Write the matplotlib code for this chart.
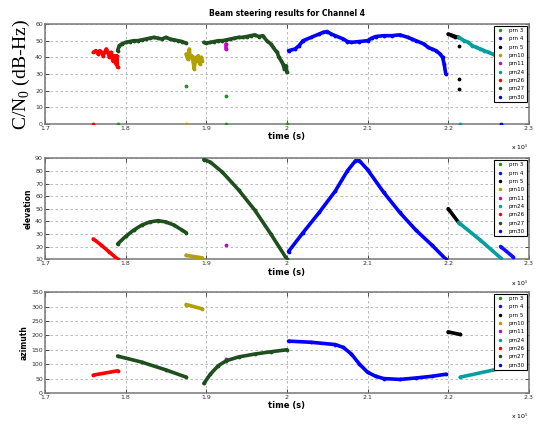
#!/usr/bin/env python3
"""Beam steering results for Channel 4: C/N0, elevation and azimuth per PRN."""

import numpy as np
import matplotlib
matplotlib.use('Agg')
import matplotlib.pyplot as plt
from matplotlib.lines import Line2D

plt.rcParams['mathtext.fontset'] = 'custom'
plt.rcParams['mathtext.rm'] = 'Liberation Serif'

# time axis is in units of 1e5 s
prns = ['prn 3', 'prn 4', 'prn 5', 'prn10', 'prn11', 'prn24', 'prn26', 'prn27', 'prn30']
colors = ['#1a9a1a', '#1010ff', '#000000', '#b0a000', '#cc00cc',
          '#00a0a0', '#ff0000', '#1f4f1f', '#0000ff']

# ---- C/N0 (dB-Hz) ----
t_cn_26 = [1.760, 1.763, 1.766, 1.768, 1.770, 1.772, 1.774, 1.776, 1.778, 1.780,
           1.782, 1.784, 1.786, 1.788, 1.789, 1.790]
cn_26 = [43, 44, 42, 44, 43, 41, 43, 45, 43, 40, 43, 38, 41, 36, 41, 34]

t_cn_27a = [1.790, 1.792, 1.795, 1.800, 1.805, 1.810, 1.815, 1.820, 1.825, 1.830,
            1.835, 1.840, 1.845, 1.850, 1.855, 1.860, 1.865, 1.870, 1.875]
cn_27a = [44, 47, 48, 49, 49.5, 50, 50, 50.5, 51, 51.5, 52, 51.5, 51, 52, 51,
          50.5, 50, 49.5, 48.5]

t_cn_10 = [1.875, 1.877, 1.879, 1.880, 1.882, 1.884, 1.885, 1.887, 1.889, 1.890,
           1.892, 1.894, 1.895]
cn_10 = [42, 39, 45, 40, 41, 37, 33, 40, 38, 41, 36, 40, 38]

t_cn_27b = [1.897, 1.900, 1.905, 1.910, 1.915, 1.920, 1.925, 1.930, 1.935, 1.940,
            1.945, 1.950, 1.955, 1.960, 1.965, 1.970, 1.975, 1.980, 1.983, 1.986,
            1.988, 1.990, 1.993, 1.995, 1.997, 1.999, 2.000]
cn_27b = [49, 48.5, 49, 49.5, 50, 50, 50.5, 51, 51.5, 52, 52, 52.5, 53, 53.5,
          52.5, 53, 50, 48, 46, 44, 43, 40, 38, 36, 33, 35, 31]

t_cn_30 = [2.002, 2.010, 2.015, 2.020, 2.030, 2.040, 2.045, 2.050, 2.055, 2.060,
           2.070, 2.075, 2.080, 2.090, 2.100, 2.105, 2.110, 2.120, 2.130, 2.140,
           2.150, 2.155, 2.160, 2.170, 2.175, 2.180, 2.185, 2.190, 2.193, 2.195, 2.197]
cn_30 = [44, 45, 47, 50, 52, 54, 55, 55.5, 54, 53, 51, 49.5, 49, 49.5, 50, 51.5,
         52.5, 53, 53, 53.5, 52, 51, 50, 48, 46, 45, 44, 42, 40, 36, 30]

t_cn_5 = [2.200, 2.203, 2.206, 2.209, 2.212]
cn_5 = [54, 53.5, 53, 52.5, 52]
t_cn_5_pts = [2.213, 2.213, 2.213]
cn_5_pts = [47, 27, 21]

t_cn_24 = [2.213, 2.220, 2.225, 2.230, 2.235, 2.240, 2.245, 2.250, 2.255, 2.260, 2.265]
cn_24 = [52, 50, 49, 47, 46, 45, 44, 43, 42, 41, 40]

t_cn_3 = [1.875, 1.925, 1.790, 1.925, 2.000]
cn_3 = [23, 17, 0, 0, 0]
t_cn_11 = [1.925, 1.925]
cn_11 = [45, 48]
t_cn_zero = [1.760, 1.875, 2.215, 2.265]
cn_zero_colors = ['#ff0000', '#b0a000', '#00a0a0', '#0000ff']

# ---- elevation (deg) ----
t_el_26 = [1.760, 1.770, 1.780, 1.790]
el_26 = [26, 21, 15.5, 10]
t_el_27a = [1.790, 1.800, 1.810, 1.820, 1.830, 1.840, 1.850, 1.860, 1.870, 1.875]
el_27a = [22, 28, 33, 37, 39.5, 40.5, 39.5, 37, 33, 31]
t_el_10 = [1.875, 1.885, 1.895]
el_10 = [13, 12, 11]
t_el_11 = [1.925]
el_11 = [21]
t_el_27b = [1.897, 1.905, 1.920, 1.940, 1.960, 1.980, 2.000]
el_27b = [89, 87, 79, 65, 49, 30, 10]
t_el_30 = [2.002, 2.020, 2.040, 2.060, 2.075, 2.085, 2.090, 2.100, 2.120, 2.140,
           2.160, 2.180, 2.197]
el_30 = [16, 31, 47, 64, 80, 88, 88, 81, 63, 47, 33, 21, 10]
t_el_5 = [2.200, 2.213]
el_5 = [50, 39]
t_el_24 = [2.213, 2.240, 2.265]
el_24 = [39, 25, 11]
t_el_4 = [2.265, 2.280]
el_4 = [20, 12]

# ---- azimuth (deg) ----
t_az_26 = [1.760, 1.790]
az_26 = [62, 77]
t_az_27a = [1.790, 1.820, 1.850, 1.875]
az_27a = [128, 107, 80, 55]
t_az_10 = [1.875, 1.895]
az_10 = [307, 292]
t_az_11 = [1.925]
az_11 = [117]
t_az_27b = [1.897, 1.905, 1.915, 1.925, 1.940, 1.960, 1.980, 2.000]
az_27b = [33, 65, 95, 112, 125, 135, 143, 150]
t_az_30 = [2.002, 2.030, 2.060, 2.070, 2.080, 2.090, 2.100, 2.110, 2.120, 2.140,
           2.160, 2.180, 2.197]
az_30 = [180, 176, 168, 158, 135, 100, 72, 58, 50, 47, 52, 58, 65]
t_az_5 = [2.200, 2.215]
az_5 = [212, 203]
t_az_24 = [2.215, 2.265]
az_24 = [55, 85]

c = dict(zip(prns, colors))

fig = plt.figure(figsize=(5.4, 4.29), dpi=100)
ax1 = fig.add_axes([0.0833, 0.711, 0.896, 0.233])
ax2 = fig.add_axes([0.0833, 0.396, 0.896, 0.235])
ax3 = fig.add_axes([0.0833, 0.084, 0.896, 0.235])


def seg(ax, t, v, col):
    ax.plot(t, v, '-', color=col, lw=2.6, marker='.', ms=3.5,
            solid_capstyle='round', zorder=3)


def dots(ax, t, v, col):
    ax.plot(t, v, '.', color=col, ms=3.5, zorder=3)


# C/N0
seg(ax1, t_cn_26, cn_26, c['prn26'])
seg(ax1, t_cn_27a, cn_27a, c['prn27'])
seg(ax1, t_cn_10, cn_10, c['prn10'])
seg(ax1, t_cn_27b, cn_27b, c['prn27'])
seg(ax1, t_cn_30, cn_30, c['prn30'])
seg(ax1, t_cn_5, cn_5, c['prn 5'])
seg(ax1, t_cn_24, cn_24, c['prn24'])
dots(ax1, t_cn_5_pts, cn_5_pts, c['prn 5'])
dots(ax1, t_cn_3, cn_3, c['prn 3'])
seg(ax1, t_cn_11, cn_11, c['prn11'])
for t, col in zip(t_cn_zero, cn_zero_colors):
    dots(ax1, [t], [0], col)

# elevation
seg(ax2, t_el_26, el_26, c['prn26'])
seg(ax2, t_el_27a, el_27a, c['prn27'])
seg(ax2, t_el_10, el_10, c['prn10'])
dots(ax2, t_el_11, el_11, c['prn11'])
seg(ax2, t_el_27b, el_27b, c['prn27'])
seg(ax2, t_el_30, el_30, c['prn30'])
seg(ax2, t_el_5, el_5, c['prn 5'])
seg(ax2, t_el_24, el_24, c['prn24'])
seg(ax2, t_el_4, el_4, c['prn 4'])

# azimuth
seg(ax3, t_az_26, az_26, c['prn26'])
seg(ax3, t_az_27a, az_27a, c['prn27'])
seg(ax3, t_az_10, az_10, c['prn10'])
dots(ax3, t_az_11, az_11, c['prn11'])
seg(ax3, t_az_27b, az_27b, c['prn27'])
seg(ax3, t_az_30, az_30, c['prn30'])
seg(ax3, t_az_5, az_5, c['prn 5'])
seg(ax3, t_az_24, az_24, c['prn24'])

handles = [Line2D([], [], ls='none', marker='.', ms=3, color=col) for col in colors]

limits = [(0, 60, 10), (10, 90, 10), (0, 350, 50)]
for ax, (lo, hi, step) in zip([ax1, ax2, ax3], limits):
    ax.set_xlim(1.7, 2.3)
    ax.set_ylim(lo, hi)
    ax.set_xticks(np.arange(1.7, 2.31, 0.1))
    ax.set_xticklabels(['1.7', '1.8', '1.9', '2', '2.1', '2.2', '2.3'])
    ax.set_yticks(np.arange(lo, hi + 1, step))
    ax.tick_params(labelsize=4.5, direction='in', length=3, width=0.6,
                   pad=1.5, top=True, right=True, colors='#333333')
    ax.grid(True, color='#b0b0b0', ls=(0, (3, 3)), lw=0.6)
    for s in ax.spines.values():
        s.set_color('#777777')
        s.set_linewidth(1.1)
    ax.set_xlabel('time (s)', fontsize=6, fontweight='bold', labelpad=1)
    ax.text(1.0, -0.19, 'x 10$^5$', transform=ax.transAxes, ha='right',
            va='top', fontsize=4.5, family='DejaVu Sans')
    leg = ax.legend(handles, prns, loc='upper right', fontsize=4, frameon=True,
                    fancybox=False, edgecolor='black', framealpha=1,
                    handlelength=1.5, borderpad=0.4, labelspacing=0.6,
                    borderaxespad=0.3)
    leg.get_frame().set_linewidth(0.8)
    leg.set_zorder(5)

ax1.set_title('Beam steering results for Channel 4', fontsize=5.5,
              fontweight='bold', pad=6)
ax1.set_ylabel('C/N$_0$ (dB-Hz)', fontsize=14, family='Liberation Serif',
               labelpad=2)
ax2.set_ylabel('elevation', fontsize=5.5, fontweight='bold', labelpad=2)
ax3.set_ylabel('azimuth', fontsize=5.5, fontweight='bold', labelpad=2)

fig.savefig('out.png', dpi=100)
